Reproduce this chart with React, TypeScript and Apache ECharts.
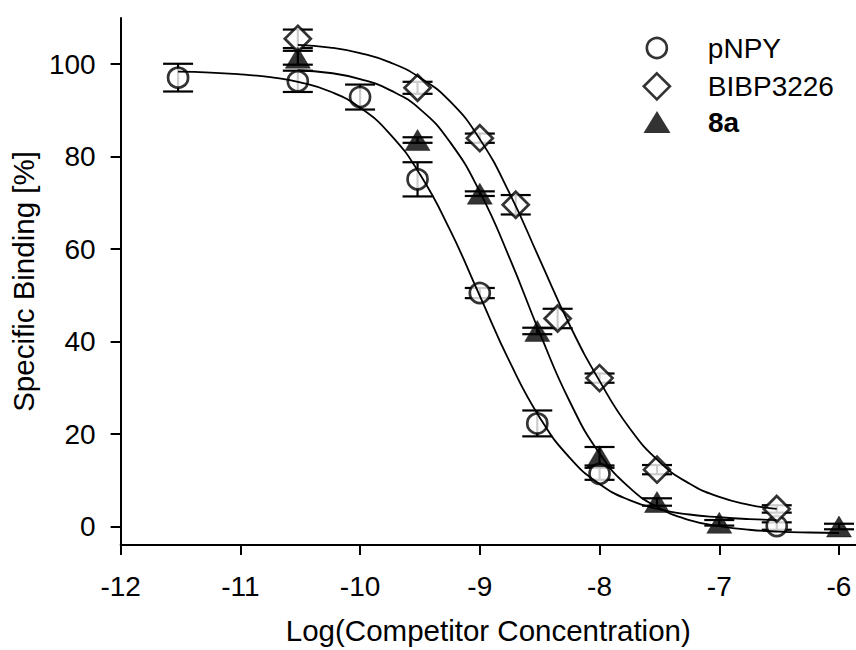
import React, { useEffect, useRef } from "react";
import * as echarts from "echarts";

// ---- axis ticks ----
const xTicks = [-12, -11, -10, -9, -8, -7, -6];
const yTicks = [0, 20, 40, 60, 80, 100];

// ---- measured data (mean, SEM) ----
const pnpyX = [-11.52, -10.52, -10, -9.52, -9, -8.52, -8, -6.52];
const pnpyY = [97.1, 96.3, 92.9, 75.1, 50.5, 22.3, 11.4, 0.1];
const pnpyErr = [3.0, 2.3, 2.7, 3.7, 1.1, 2.8, 1.3, 0.8];

const bibpX = [-10.52, -9.52, -9, -8.7, -8.35, -8, -7.52, -6.52];
const bibpY = [105.5, 94.9, 84.0, 69.6, 45.0, 32.1, 12.3, 3.8];
const bibpErr = [2.0, 1.3, 1.0, 2.1, 2.1, 1.0, 1.0, 0.8];

const a8X = [-10.52, -9.52, -9, -8.52, -8, -7.52, -7, -6];
const a8Y = [101.4, 83.6, 72.0, 42.3, 15.2, 5.3, 0.8, 0.0];
const a8Err = [1.5, 0.6, 0.5, 0.7, 2.0, 0.8, 0.6, 0.6];

// ---- fitted curves ----
const pnpyFitX = [-11.52, -11.25, -11, -10.75, -10.5, -10.25, -10, -9.75, -9.5, -9.25, -9, -8.75, -8.5, -8.25, -8, -7.75, -7.5, -7.25, -7, -6.75, -6.52];
const pnpyFitY = [98.4, 98.2, 97.8, 97.2, 96.1, 94.1, 90.6, 84.9, 76.2, 64.2, 49.9, 35.6, 23.6, 14.9, 9.2, 5.7, 3.7, 2.6, 2.0, 1.6, 1.4];

const a8FitX = [-10.52, -10.25, -10, -9.75, -9.5, -9.25, -9, -8.75, -8.5, -8.25, -8, -7.75, -7.5, -7.25, -7, -6.75, -6.5, -6.25, -6];
const a8FitY = [98.7, 98.1, 96.8, 94.4, 90.3, 83.2, 72.4, 58.0, 41.9, 27.1, 15.8, 8.4, 4.0, 1.4, 0.1, -0.7, -1.1, -1.3, -1.4];

const bibpFitX = [-10.52, -10.25, -10, -9.75, -9.5, -9.25, -9, -8.75, -8.5, -8.25, -8, -7.75, -7.5, -7.25, -7, -6.75, -6.52];
const bibpFitY = [104.2, 103.6, 102.4, 100.4, 97.1, 92.0, 83.8, 72.0, 57.8, 43.6, 31.5, 21.3, 14.0, 9.3, 6.4, 4.7, 3.8];

const FONT = "'Liberation Sans', Arial, Helvetica, sans-serif";

const zip2 = (xs: number[], ys: number[]) => xs.map((x, i) => [x, ys[i]]);
const zip3 = (xs: number[], ys: number[], es: number[]) => xs.map((x, i) => [x, ys[i], es[i]]);

const errRender = (params: any, api: any) => {
  const x = api.value(0);
  const y = api.value(1);
  const e = api.value(2);
  const hi = api.coord([x, y + e]);
  const lo = api.coord([x, y - e]);
  const hw = 15;
  const st = { stroke: "#000", lineWidth: 2.2 };
  return {
    type: "group",
    children: [
      { type: "line", shape: { x1: hi[0], y1: hi[1], x2: lo[0], y2: lo[1] }, style: st },
      { type: "line", shape: { x1: hi[0] - hw, y1: hi[1], x2: hi[0] + hw, y2: hi[1] }, style: st },
      { type: "line", shape: { x1: lo[0] - hw, y1: lo[1], x2: lo[0] + hw, y2: lo[1] }, style: st },
    ],
  };
};

const errSeries = (name: string, data: number[][]) => ({
  type: "custom",
  name,
  data,
  renderItem: errRender,
  encode: { x: 0, y: 1 },
  z: 2,
  silent: true,
});

const lineSeries = (name: string, data: number[][]) => ({
  type: "line",
  name,
  data,
  smooth: true,
  showSymbol: false,
  symbol: "none",
  lineStyle: { color: "#000", width: 1.8 },
  z: 4,
  silent: true,
});

export default function App() {
  const ref = useRef<HTMLDivElement>(null);
  useEffect(() => {
    if (!ref.current) return;
    const chart = echarts.init(ref.current, null, { renderer: "svg" });
    const legendBase = {
      orient: "vertical",
      padding: 0,
      selectedMode: false,
      itemWidth: 92,
      symbolKeepAspect: true,
      textStyle: { fontSize: 28, color: "#000", fontFamily: FONT },
    };
    chart.setOption({
      animation: false,
      backgroundColor: "#fff",
      textStyle: { fontFamily: FONT },
      grid: { left: 119, right: 0, top: 18, bottom: 95, containLabel: false },
      legend: [
        {
          ...legendBase,
          left: 645.5,
          top: 34,
          itemHeight: 20,
          data: [{ name: "pNPY" }],
          itemStyle: { borderColor: "#000", borderWidth: 2.7 },
        },
        {
          ...legendBase,
          left: 642.5,
          top: 72,
          itemHeight: 26,
          data: [{ name: "BIBP3226", icon: "path://M13,0L26,13L13,26L0,13Z" }],
          itemStyle: { borderColor: "#000", borderWidth: 2.7 },
        },
        {
          ...legendBase,
          left: 643.5,
          top: 108,
          itemHeight: 22,
          data: [{ name: "8a", icon: "path://M13.5,0L27,22L0,22Z", textStyle: { fontWeight: "bold" } }],
          itemStyle: { color: "#000", borderWidth: 0 },
        },
      ],
      xAxis: {
        type: "value",
        min: -12,
        max: -5.858,
        name: "Log(Competitor Concentration)",
        nameLocation: "middle",
        nameGap: 70,
        nameTextStyle: { fontSize: 29.5, color: "#000", fontFamily: FONT },
        axisLine: { show: true, onZero: false, lineStyle: { color: "#000", width: 2 } },
        axisTick: { show: true, length: 10, customValues: xTicks, lineStyle: { color: "#000", width: 2 } },
        axisLabel: {
          customValues: xTicks,
          formatter: (v: number) => String(v),
          fontSize: 28,
          color: "#000",
          margin: 27,
          fontFamily: FONT,
        },
        splitLine: { show: false },
      },
      yAxis: {
        type: "value",
        min: -4,
        max: 110,
        name: "Specific Binding [%]",
        nameLocation: "middle",
        nameGap: 78,
        nameTextStyle: { fontSize: 29.5, color: "#000", fontFamily: FONT },
        axisLine: { show: true, onZero: false, lineStyle: { color: "#000", width: 2 } },
        axisTick: { show: true, length: 10, customValues: yTicks, lineStyle: { color: "#000", width: 2 } },
        axisLabel: {
          customValues: yTicks,
          formatter: (v: number) => String(v),
          fontSize: 28,
          color: "#000",
          margin: 25,
          fontFamily: FONT,
        },
        splitLine: { show: false },
      },
      series: [
        errSeries("pNPY err", zip3(pnpyX, pnpyY, pnpyErr)),
        errSeries("BIBP3226 err", zip3(bibpX, bibpY, bibpErr)),
        errSeries("8a err", zip3(a8X, a8Y, a8Err)),
        {
          type: "scatter",
          name: "pNPY",
          data: zip2(pnpyX, pnpyY),
          symbol: "circle",
          symbolSize: 20,
          itemStyle: { color: "#fff", borderColor: "#000", borderWidth: 2.7 },
          z: 3,
          silent: true,
        },
        {
          type: "scatter",
          name: "BIBP3226",
          data: zip2(bibpX, bibpY),
          symbol: "diamond",
          symbolSize: 26,
          itemStyle: { color: "#fff", borderColor: "#000", borderWidth: 2.7 },
          z: 3,
          silent: true,
        },
        {
          type: "scatter",
          name: "8a",
          data: zip2(a8X, a8Y),
          symbol: "triangle",
          symbolSize: [25, 21],
          itemStyle: { color: "#000", borderColor: "#000", borderWidth: 0.5 },
          z: 3,
          silent: true,
        },
        lineSeries("pNPY fit", zip2(pnpyFitX, pnpyFitY)),
        lineSeries("BIBP3226 fit", zip2(bibpFitX, bibpFitY)),
        lineSeries("8a fit", zip2(a8FitX, a8FitY)),
      ],
    });
    return () => chart.dispose();
  }, []);
  return (
    <div
      ref={ref}
      style={{ position: "fixed", left: 0, top: 0, width: 856, height: 650, background: "#fff" }}
    />
  );
}
